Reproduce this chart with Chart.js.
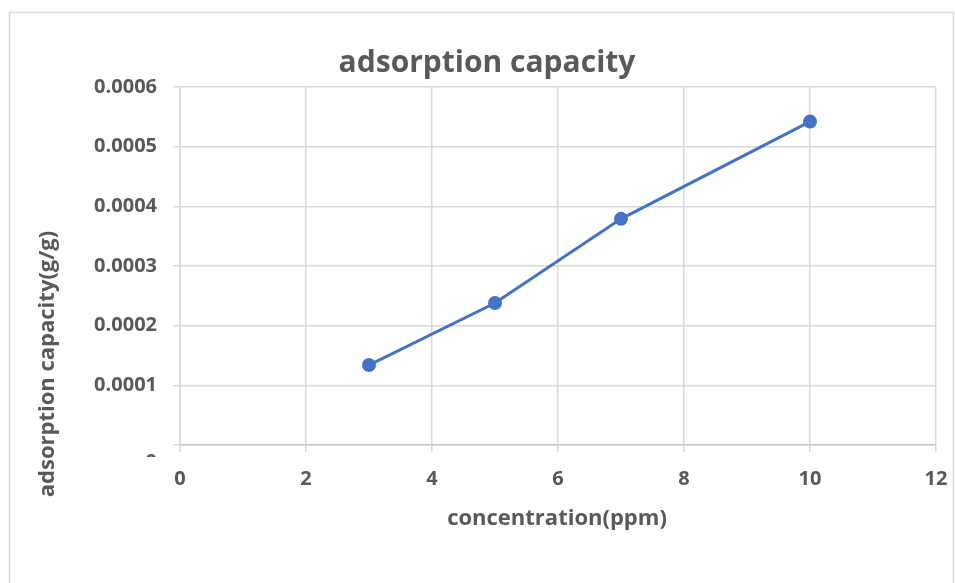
<!DOCTYPE html>
<html>
<head>
<meta charset="utf-8">
<script src="https://cdn.jsdelivr.net/npm/chart.js@4.4.1/dist/chart.umd.min.js"></script>
<style>
  html, body { margin: 0; padding: 0; background: #fff; }
  #wrap { position: relative; width: 955px; height: 583px; }
</style>
</head>
<body>
<div id="wrap"><canvas id="capacityChart" width="955" height="583"></canvas></div>
<script>
// data
const concentration = [3, 5, 7, 10];
const capacity = [0.000134, 0.000238, 0.000379, 0.000542];

const chartTitle = 'adsorption capacity';
const xTitle = 'concentration(ppm)';
const yTitle = 'adsorption capacity(g/g)';

const TEXT = '#595959';
const GRID = '#d9d9d9';
const FONT = '"Open Sans", sans-serif';

// frame, titles and the clipped "0" label drawn on top
const decorations = {
    id: 'decorations',
    beforeDraw(chart) {
        const ctx = chart.ctx;
        ctx.save();
        ctx.strokeStyle = GRID;
        ctx.lineWidth = 1.5;
        ctx.strokeRect(9.5, 12.5, 944, 700);
        ctx.restore();
    },
    afterDraw(chart) {
        const ctx = chart.ctx;
        ctx.save();
        ctx.fillStyle = TEXT;
        ctx.textAlign = 'center';
        ctx.textBaseline = 'middle';

        ctx.font = 'bold 30px ' + FONT;
        ctx.fillText(chartTitle, 487, 63);

        ctx.font = 'bold 22px ' + FONT;
        ctx.fillText(xTitle, 557, 519);

        ctx.save();
        ctx.translate(48, 364);
        ctx.rotate(-Math.PI / 2);
        ctx.fillText(yTitle, 0, 0);
        ctx.restore();

        // the "0" on the y axis is cut off in the original
        ctx.beginPath();
        ctx.rect(140, 451, 20, 6);
        ctx.clip();
        ctx.font = 'bold 20px ' + FONT;
        ctx.textAlign = 'right';
        ctx.fillText('0', 157, 462);
        ctx.restore();
    }
};

const ctx = document.getElementById('capacityChart').getContext('2d');

new Chart(ctx, {
    type: 'scatter',
    data: {
        datasets: [{
            label: chartTitle,
            data: concentration.map((x, i) => ({ x: x, y: capacity[i] })),
            showLine: true,
            borderColor: '#4472C4',
            backgroundColor: '#4472C4',
            borderWidth: 3,
            pointRadius: 7,
            pointHoverRadius: 7,
            pointBorderWidth: 0
        }]
    },
    options: {
        responsive: false,
        devicePixelRatio: 1,
        animation: false,
        layout: { padding: { top: 87, right: 19, left: 0, bottom: 0 } },
        plugins: {
            legend: { display: false },
            title: { display: false },
            tooltip: { enabled: false }
        },
        scales: {
            x: {
                type: 'linear',
                min: 0,
                max: 12,
                afterFit(scale) {
                    scale.height = 138;
                    scale.paddingLeft = 0;
                    scale.paddingRight = 0;
                },
                ticks: {
                    stepSize: 2,
                    padding: 15,
                    color: TEXT,
                    font: { family: FONT, size: 20, weight: 'bold' }
                },
                grid: { color: GRID, lineWidth: 1.5, tickLength: 7, tickColor: GRID },
                border: { color: '#c8c8c8', width: 1.5 }
            },
            y: {
                type: 'linear',
                min: 0,
                max: 0.0006,
                afterFit(scale) {
                    scale.width = 180;
                    scale.paddingTop = 0;
                    scale.paddingBottom = 0;
                },
                ticks: {
                    stepSize: 0.0001,
                    padding: 16,
                    color: TEXT,
                    font: { family: FONT, size: 20, weight: 'bold' },
                    callback: value => (Math.abs(value) < 1e-12 ? '' : value.toFixed(4))
                },
                grid: { color: GRID, lineWidth: 1.5, tickLength: 7, tickColor: GRID },
                border: { color: GRID, width: 1.5 }
            }
        }
    },
    plugins: [decorations]
});
</script>
</body>
</html>
